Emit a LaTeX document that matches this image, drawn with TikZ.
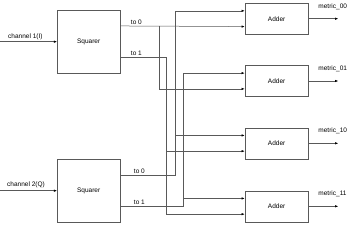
\documentclass[tikz,border=0pt]{standalone}
\usepackage{fontspec}
\setmainfont{Liberation Sans}
\usetikzlibrary{arrows.meta,calc}
\begin{document}
\begin{tikzpicture}[x=1pt,y=-1pt,
  wire/.style={draw=black!65,line width=0.5pt},
  arr/.style={wire,-{Latex[length=3.2pt,width=2.4pt,black]}},
  sqbox/.style={draw=black!65,line width=0.5pt,minimum width=62.7pt,minimum height=62.5pt,inner sep=0pt,font=\fontsize{6.5}{7}\selectfont},
  addbox/.style={draw=black!65,line width=0.5pt,minimum width=63.3pt,minimum height=31pt,inner sep=0pt,font=\fontsize{6.5}{7}\selectfont},
  lbl/.style={inner sep=0.5pt,font=\fontsize{6.5}{7}\selectfont}]
\useasboundingbox (0,0) rectangle (350,226);
\node[sqbox] (sq1) at (88.65,41.7) {Squarer};
\node[sqbox] (sq2) at (88.65,190.7) {Squarer};
\node[addbox] (a1) at (276.65,18.7) {Adder};
\node[addbox] (a2) at (276.65,81) {Adder};
\node[addbox] (a3) at (276.65,143.3) {Adder};
\node[addbox] (a4) at (276.65,206.3) {Adder};
% ports
\coordinate (s1o0) at ($(sq1.north east)!0.25!(sq1.south east)$);
\coordinate (s1o1) at ($(sq1.north east)!0.75!(sq1.south east)$);
\coordinate (s2o0) at ($(sq2.north east)!0.25!(sq2.south east)$);
\coordinate (s2o1) at ($(sq2.north east)!0.75!(sq2.south east)$);
\foreach \a in {a1,a2,a3,a4}{
  \coordinate (\a i1) at ($(\a.north west)!0.25!(\a.south west)$);
  \coordinate (\a i2) at ($(\a.north west)!0.75!(\a.south west)$);
}
% inputs
\coordinate (in1) at (0,41.7);
\coordinate (in2) at (0,190.7);
\draw[arr] (in1) -- (sq1.west);
\draw[arr] (in2) -- (sq2.west);
\node[lbl,anchor=west] (l1) at (7.5,37.3) {channel 1(I)};
\node[lbl,anchor=west] (l2) at (6.5,185.3) {channel 2(Q)};
% squarer labels
\node[lbl,anchor=south west] at ($(s1o0)+(10,-1)$) {to 0};
\node[lbl,anchor=south west] at ($(s1o1)+(10,-1)$) {to 1};
\node[lbl,anchor=south west] at ($(s2o0)+(13,-1)$) {to 0};
\node[lbl,anchor=south west] at ($(s2o1)+(13,-1)$) {to 1};
% Sq1 to 0 -> a1 in2, a2 in2
\draw[arr] (s1o0) -- (a1i2);
\draw[arr] (s1o0 -| 159.3,0) |- (a2i2);
% Sq1 to 1 -> a3 in2, a4 in2
\draw[arr] (s1o1) -| (166.7,0 |- a4i2) -- (a4i2);
\draw[arr] (a3i2 -| 166.7,0) -- (a3i2);
% Sq2 to 0 -> a1 in1, a3 in1
\draw[arr] (s2o0) -| (175.3,0 |- a1i1) -- (a1i1);
\draw[arr] (a3i1 -| 175.3,0) -- (a3i1);
% Sq2 to 1 -> a2 in1, a4 in1
\draw[arr] (s2o1) -| (183.3,0 |- a2i1) -- (a2i1);
\draw[arr] (a4i1 -| 183.3,0) -- (a4i1);
% outputs
\foreach \a/\t in {a1/00,a2/01,a3/10,a4/11}{
  \coordinate (\a o) at ($(\a.east)+(29.7,0)$);
  \draw[arr] (\a.east) -- (\a o);
  \node[lbl,anchor=west] at ($(\a.east)+(9.2,-12.3)$) {metric\_\t};
}
\end{tikzpicture}
\end{document}
